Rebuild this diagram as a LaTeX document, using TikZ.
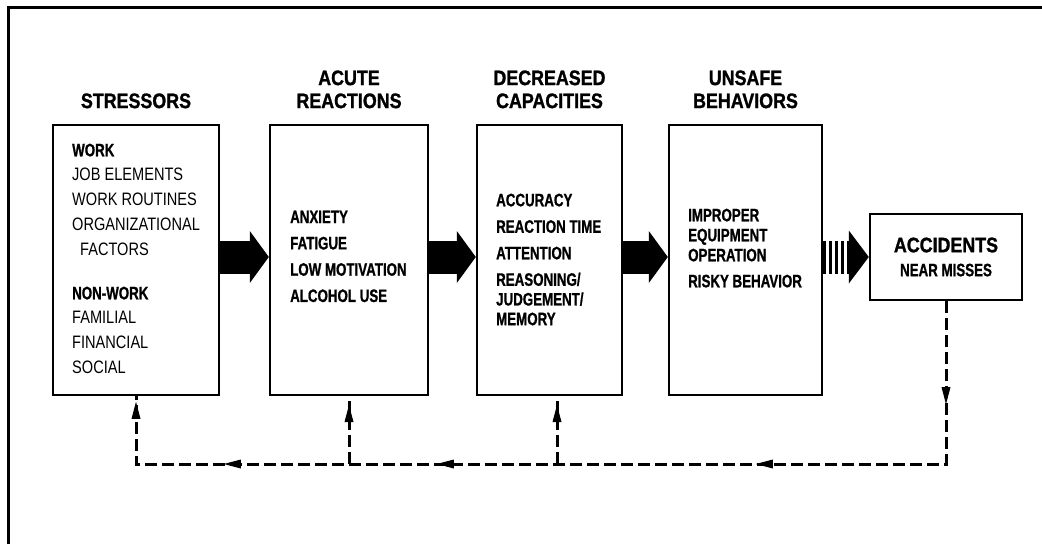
\documentclass[tikz,border=0pt]{standalone}
\usepackage{fontspec}
\setmainfont{Liberation Sans}
\newfontfamily\hfont[FakeStretch=0.85, BoldFeatures={FakeBold=1.2}]{Liberation Sans}
\newfontfamily\bfont[FakeStretch=0.74, BoldFeatures={FakeBold=0.9}]{Liberation Sans}
\newfontfamily\rfont[FakeStretch=0.81]{Liberation Sans}
\usetikzlibrary{arrows.meta,decorations.markings}
\tikzset{fbt/.tip={Triangle[length=17pt,width=9pt,line width=0pt]}}
\begin{document}
\begin{tikzpicture}[x=1pt,y=-1pt,
  box/.style={draw, line width=2.4pt, inner sep=0pt, rectangle},
  headtxt/.style={font=\hfont\bfseries\fontsize{21}{23}\selectfont, align=center, inner sep=0pt, anchor=south},
  itemsB/.style={font=\bfont\bfseries\fontsize{18}{#1}\selectfont, align=left, inner sep=0pt, anchor=north west},
  itemsR/.style={font=\rfont\fontsize{18}{#1}\selectfont, align=left, inner sep=0pt, anchor=north west},
  bigarrow/.style={line width=33pt, -{Triangle[length=19pt,width=52pt,line width=0pt]}},
  hatcharrow/.style={line width=33pt, dash pattern=on 3.2pt off 2.8pt, -{Triangle[length=20pt,width=53pt,line width=0pt]}},
  fb/.style={line width=3pt, dash pattern=on 12pt off 5pt}
]
\useasboundingbox (0,0) rectangle (1042,544);
\fill[white] (0,0) rectangle (1042,544);
% frame
\draw[line width=3pt] (8,544) -- (8,7) -- (1042,7);

% boxes
\node[box, minimum width=166pt, minimum height=270pt] (b1) at (136,260) {};
\node[box, minimum width=158pt, minimum height=270pt] (b2) at (349,260) {};
\node[box, minimum width=145pt, minimum height=270pt] (b3) at (549.5,260) {};
\node[box, minimum width=153pt, minimum height=270pt] (b4) at (745.5,260) {};
\node[box, minimum width=152pt, minimum height=86pt, align=center,
      font=\bfont\bfseries\fontsize{18}{24}\selectfont] (acc) at (946,257)
      {{\hfont\fontsize{21}{24}\selectfont ACCIDENTS}\\NEAR MISSES};

% headings
\coordinate (hy) at (0,108.5);
\node[headtxt] (h1) at (b1.north |- hy) {STRESSORS};
\node[headtxt] (h2) at (b2.north |- hy) {ACUTE\\REACTIONS};
\node[headtxt] (h3) at (b3.north |- hy) {DECREASED\\CAPACITIES};
\node[headtxt] (h4) at (b4.north |- hy) {UNSAFE\\BEHAVIORS};

% box texts
\node[itemsR=24.7] (t1) at (72,143.5)
  {{\bfont\bfseries WORK}\\JOB ELEMENTS\\WORK ROUTINES\\ORGANIZATIONAL\\\hspace*{8pt}FACTORS\\[19.5pt]{\bfont\bfseries NON-WORK}\\FAMILIAL\\FINANCIAL\\SOCIAL};
\node[itemsB=26.3] (t2) at (290,210.5)
  {ANXIETY\\FATIGUE\\LOW MOTIVATION\\ALCOHOL USE};
\node[itemsB=19.7] (t3) at (496,193.5)
  {ACCURACY\\[6.8pt]REACTION TIME\\[6.8pt]ATTENTION\\[6.8pt]REASONING/\\JUDGEMENT/\\MEMORY};
\node[itemsB=20] (t4) at (688,208.5)
  {IMPROPER\\EQUIPMENT\\OPERATION\\[6pt]RISKY BEHAVIOR};

% block arrows
\coordinate (ay) at (0,257);
\draw[bigarrow] (b1.east |- ay) -- (b2.west |- ay);
\draw[bigarrow] (b2.east |- ay) -- (b3.west |- ay);
\draw[bigarrow] (b3.east |- ay) -- (b4.west |- ay);
\draw[hatcharrow] (b4.east |- ay) -- (acc.west |- ay);

% feedback loop
\coordinate (fy) at (0,464);
\coordinate (b3x) at (557,0);
\draw[fb, postaction={decorate, decoration={markings,
    mark=at position 103pt with {\arrow{fbt}},
    mark=at position 353pt with {\arrow{fbt}},
    mark=at position 672pt with {\arrow{fbt}},
    mark=at position 885pt with {\arrow{fbt}},
    mark=at position 1035pt with {\arrow{fbt}}}}]
  (acc.south) -- (acc.south |- fy) -- (b1.south |- fy) -- (b1.south);
\draw[fb, postaction={decorate, decoration={markings,
    mark=at position 59pt with {\arrow{fbt}}}}]
  (b2.south |- fy) -- (b2.south);
\draw[fb, postaction={decorate, decoration={markings,
    mark=at position 59pt with {\arrow{fbt}}}}]
  (b3x |- fy) -- (b3x |- b3.south);
\end{tikzpicture}
\end{document}
